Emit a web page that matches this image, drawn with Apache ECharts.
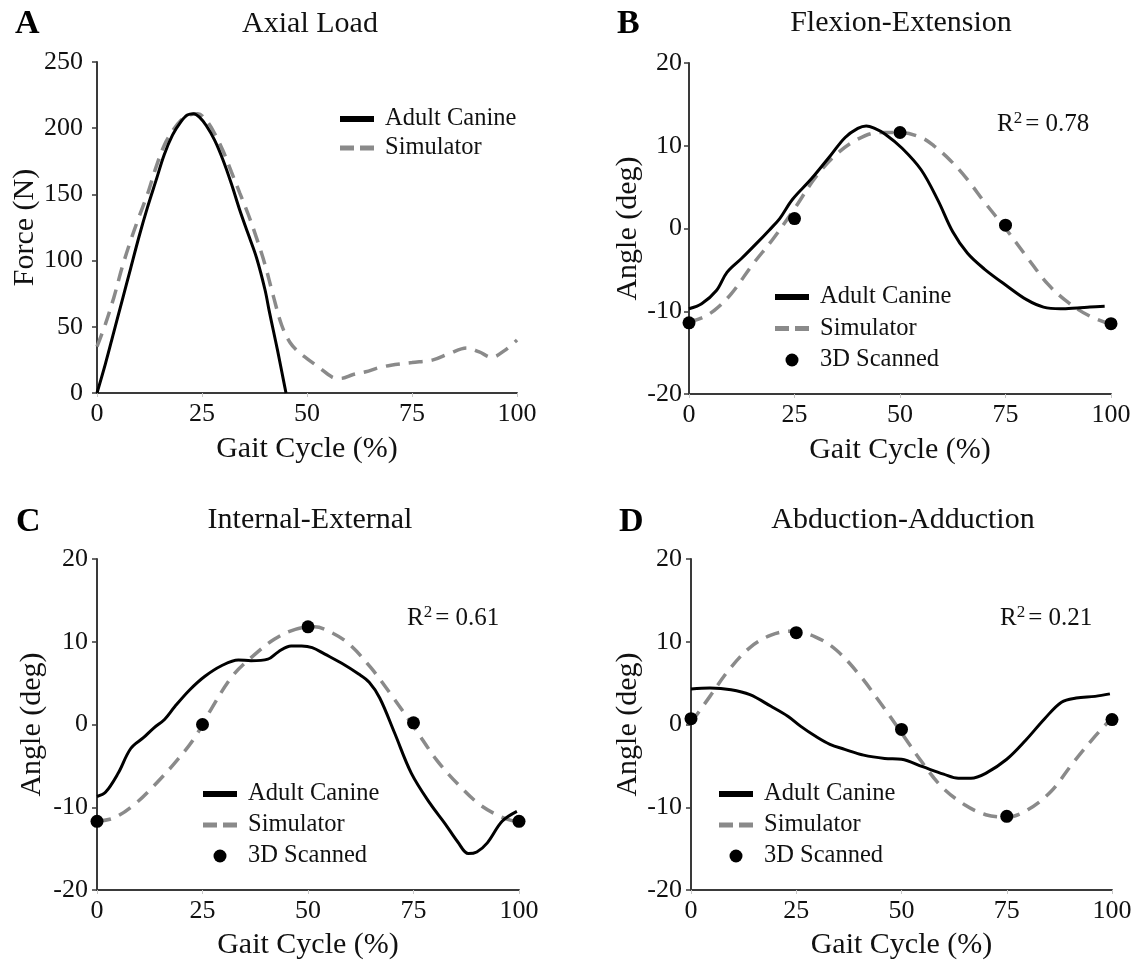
<!DOCTYPE html>
<html>
<head>
<meta charset="utf-8">
<script src="https://cdn.jsdelivr.net/npm/echarts@6/dist/echarts.min.js"></script>
<style>
html,body{margin:0;padding:0;background:#fff;}
#chart{width:1137px;height:965px;}
</style>
</head>
<body>
<div id="chart"></div>
<script>
// ---------- data ----------
var panelLetters = ['A', 'B', 'C', 'D'];
var panelTitles = ['Axial Load', 'Flexion-Extension', 'Internal-External', 'Abduction-Adduction'];
var yNames = ['Force (N)', 'Angle (deg)', 'Angle (deg)', 'Angle (deg)'];
var xName = 'Gait Cycle (%)';
var rSquared = [null, '0.78', '0.61', '0.21'];
var seriesNames = ['Adult Canine', 'Simulator', '3D Scanned'];

var axialCanine = [[0,0],[2,22],[4,46],[6,70],[8,94],[10,118],[12,140],[14,160],[16,180],[18,195],[20,205],[21.5,210],[23,211],[24.5,208],[26,202],[28,191],[30,176],[32,158],[34,138],[36,120],[38,102],[40,78],[41,62],[42,47],[43,32],[44,16],[45,0]];
var axialSim = [[0,35],[2,52],[4,72],[6,95],[8,115],[10,133],[12,150],[14,170],[16,187],[18,198],[20,206],[22,210],[24,211],[26,206],[28,196],[30,183],[32,167],[34,151],[36,135],[38,117],[40,97],[42,73],[44,51],[46,38],[48,31],[50,26],[53,19],[56,12],[58,11],[61,14],[64,16],[67,19],[70,21],[75,23],[80,25],[84,30],[88,34],[91,31],[94,27],[97,32],[100,40]];

var flexCanine = [[0,-9.7],[3,-9.1],[6.5,-7.5],[9,-5.3],[12.5,-3.6],[16,-1.8],[19,-0.2],[21.5,1.2],[24.5,3.5],[29,6],[33.5,8.8],[37,11],[40,12.1],[42,12.4],[44,12.1],[46.5,11.4],[50.5,9.7],[55,7.1],[59,3.4],[62.5,-0.4],[66,-3],[70,-4.9],[75.5,-7],[80,-8.6],[84,-9.5],[88,-9.7],[92,-9.6],[95,-9.5],[98.5,-9.4]];
var flexSim = [[0,-11.3],[3,-10.8],[6,-9.9],[10,-7.9],[15,-4.4],[20,-1.2],[25,2.4],[30,6.2],[35,9],[40,10.8],[45,11.6],[50,11.6],[55,11],[58,10],[62,8.2],[66,5.9],[70,3.2],[75,0],[80,-3.4],[85,-6.7],[90,-9],[95,-10.6],[100,-11.6]];
var flexScan = [[0,-11.4],[25,1.2],[50,11.6],[75,0.4],[100,-11.5]];

var intCanine = [[0,-8.7],[2,-8.2],[5,-5.9],[8,-2.9],[11,-1.6],[13.5,-0.4],[16,0.6],[18.5,2.2],[22,4.2],[25.5,5.8],[29.5,7.1],[33.5,7.8],[36.5,7.7],[40.5,7.9],[43,8.8],[46,9.5],[48.5,9.5],[51,9.3],[54,8.5],[58,7.4],[62,6.1],[64.5,5.1],[67,3.2],[70.5,-1],[74.5,-5.9],[79,-9.6],[82.5,-12],[85.5,-14.2],[88,-15.6],[90,-15.4],[92.5,-14.3],[96,-11.7],[99.5,-10.5]];
var intSim = [[0,-11.7],[4,-11.3],[9,-9.6],[13.5,-7.4],[18.5,-4.6],[23,-1.7],[27,1.8],[32,5.8],[37,8.3],[42,10.3],[47,11.5],[51.5,11.8],[56,11],[60,9.6],[65,6.8],[70,3.4],[75.5,-0.6],[80.5,-4.3],[85.5,-7.2],[90.5,-9.6],[95.5,-11.1],[99,-11.7]];
var intScan = [[0,-11.7],[25,0],[50,11.8],[75,0.2],[100,-11.7]];

var abdCanine = [[0,4.3],[4.5,4.4],[9.5,4.2],[14,3.6],[19,2.2],[23,1],[26,-0.2],[29.5,-1.4],[33,-2.4],[36.5,-3],[41,-3.7],[46,-4.1],[50,-4.2],[55,-5.1],[60,-6],[63.5,-6.5],[66.5,-6.5],[70,-5.9],[75,-4.2],[79.5,-1.9],[84,0.7],[88,2.7],[91.5,3.2],[96,3.4],[99.5,3.7]];
var abdSim = [[0,0.2],[4.5,3.4],[9,6.6],[14,9.3],[19,10.8],[24,11.3],[29.5,10.6],[34.5,9],[40,6],[45,2.6],[50,-1],[54.5,-4.3],[59.5,-7.5],[65,-9.7],[70,-10.9],[75,-11.2],[80,-10.3],[85.5,-8.1],[90.5,-4.8],[95.5,-1.7],[100,0.8]];
var abdScan = [[0,0.7],[25,11.1],[50,-0.6],[75,-11.1],[100,0.6]];

var xTicks = {min: 0, max: 100, interval: 25};
var yForceTicks = {min: 0, max: 250, interval: 50};
var yAngleTicks = {min: -20, max: 20, interval: 10};

// ---------- layout / style ----------
var FONT = '"Liberation Serif", "Times New Roman", serif';
var grids = [
  {left: 97, top: 62, width: 420, height: 331},
  {left: 689, top: 63, width: 422, height: 331},
  {left: 97, top: 559, width: 422, height: 331},
  {left: 691, top: 559, width: 421, height: 331}
];
var yLabelMargin = [14, 7, 9, 9];
var yNameGap = [51, 46, 50, 43];
var xNameGap = [41, 41, 40, 40];
var letterPos = [[15, 24], [617, 24], [16, 522], [619, 522]];
var titlePos = [[310, 24], [901, 23], [310, 520], [903, 520]];
var rPos = [null, [997, 124], [407, 618], [1000, 618]];
var legendPos = [[340, 106], [775, 284], [203, 781], [719, 781]];
var legendGap = [3, 5.5, 5, 5];

var BLACK = '#000';
var GRAY = '#8a8a8a';
var AXIS = '#3a3a3a';
// legend glyphs (bounding box 34x13, stripe in the middle)
var ICON_SOLID = 'path://M0,0M34,13M0,3.5h34v6h-34z';
var ICON_DASH = 'path://M0,0M34,13M0,4h14v5h-14zM20,4h14v5h-14z';

function makeX(i) {
  return {
    type: 'value', gridIndex: i, min: xTicks.min, max: xTicks.max, interval: xTicks.interval,
    name: xName, nameLocation: 'middle', nameGap: xNameGap[i],
    nameTextStyle: {fontFamily: FONT, fontSize: 30, color: '#111'},
    axisLine: {show: true, onZero: false, lineStyle: {color: AXIS, width: 2}},
    axisTick: {show: true, length: 4, lineStyle: {color: '#c8c8c8', width: 1}},
    axisLabel: {fontFamily: FONT, fontSize: 26, color: '#111', margin: 8},
    splitLine: {show: false}
  };
}
function makeY(i) {
  var t = i === 0 ? yForceTicks : yAngleTicks;
  return {
    type: 'value', gridIndex: i, min: t.min, max: t.max, interval: t.interval,
    name: yNames[i], nameLocation: 'middle', nameGap: yNameGap[i],
    nameTextStyle: {fontFamily: FONT, fontSize: 30, color: '#111'},
    axisLine: {show: true, onZero: false, lineStyle: {color: AXIS, width: 2}},
    axisTick: {show: true, length: 5, lineStyle: {color: AXIS, width: 1.5}},
    axisLabel: {fontFamily: FONT, fontSize: 26, color: '#111', margin: yLabelMargin[i]},
    splitLine: {show: false}
  };
}
function lineSeries(name, data, i, dashed) {
  return {
    type: 'line', name: name, data: data, xAxisIndex: i, yAxisIndex: i,
    showSymbol: false, symbol: 'none', smooth: 0.35, clip: false,
    lineStyle: dashed ? {color: GRAY, width: 3.5, type: [14, 9]} : {color: BLACK, width: 3},
    itemStyle: {color: dashed ? GRAY : BLACK},
    z: dashed ? 2 : 3, animation: false
  };
}
function scatterSeries(data, i) {
  return {
    type: 'scatter', name: seriesNames[2], data: data, xAxisIndex: i, yAxisIndex: i,
    symbol: 'circle', symbolSize: 13, itemStyle: {color: BLACK, opacity: 1}, clip: false, z: 4, animation: false
  };
}

var series = [
  lineSeries(seriesNames[0], axialCanine, 0, false),
  lineSeries(seriesNames[1], axialSim, 0, true),
  lineSeries(seriesNames[0], flexCanine, 1, false),
  lineSeries(seriesNames[1], flexSim, 1, true),
  scatterSeries(flexScan, 1),
  lineSeries(seriesNames[0], intCanine, 2, false),
  lineSeries(seriesNames[1], intSim, 2, true),
  scatterSeries(intScan, 2),
  lineSeries(seriesNames[0], abdCanine, 3, false),
  lineSeries(seriesNames[1], abdSim, 3, true),
  scatterSeries(abdScan, 3)
];

var legends = [0, 1, 2, 3].map(function (i) {
  var names = i === 0 ? seriesNames.slice(0, 2) : seriesNames.slice();
  return {
    orient: 'vertical', left: legendPos[i][0], top: legendPos[i][1], padding: 0,
    itemWidth: 34, itemHeight: 13, itemGap: legendGap[i], selectedMode: false,
    textStyle: {fontFamily: FONT, fontSize: 24.5, color: '#111', lineHeight: 26, padding: [0, 0, 0, 6]},
    data: names.map(function (n, k) {
      if (k === 0) return {name: n, icon: ICON_SOLID, itemStyle: {color: BLACK, borderWidth: 0}};
      if (k === 1) return {name: n, icon: ICON_DASH, itemStyle: {color: GRAY, borderWidth: 0}};
      return {name: n, icon: 'circle', itemStyle: {color: BLACK, opacity: 1, borderWidth: 0}};
    })
  };
});

var graphics = [];
for (var i = 0; i < 4; i++) {
  graphics.push({
    type: 'text', left: letterPos[i][0], top: letterPos[i][1] - 17,
    style: {text: panelLetters[i], font: 'bold 34px ' + FONT, fill: '#000'}
  });
  graphics.push({
    type: 'text', x: titlePos[i][0], y: titlePos[i][1],
    style: {text: panelTitles[i], font: '30px ' + FONT, fill: '#111', align: 'center', verticalAlign: 'middle'}
  });
  if (rSquared[i]) {
    graphics.push({
      type: 'text', x: rPos[i][0], y: rPos[i][1],
      style: {
        text: '{r|R}{s|2}{r|= ' + rSquared[i] + '}',
        verticalAlign: 'middle',
        rich: {
          r: {font: '25px ' + FONT, fill: '#111'},
          s: {font: '17px ' + FONT, fill: '#111', padding: [0, 3, 11, 0]}
        }
      }
    });
  }
}

var chart = echarts.init(document.getElementById('chart'), null, {renderer: 'canvas'});
chart.setOption({
  backgroundColor: '#fff',
  animation: false,
  grid: grids,
  xAxis: [0, 1, 2, 3].map(makeX),
  yAxis: [0, 1, 2, 3].map(makeY),
  legend: legends,
  series: series,
  graphic: graphics
});
</script>
</body>
</html>
